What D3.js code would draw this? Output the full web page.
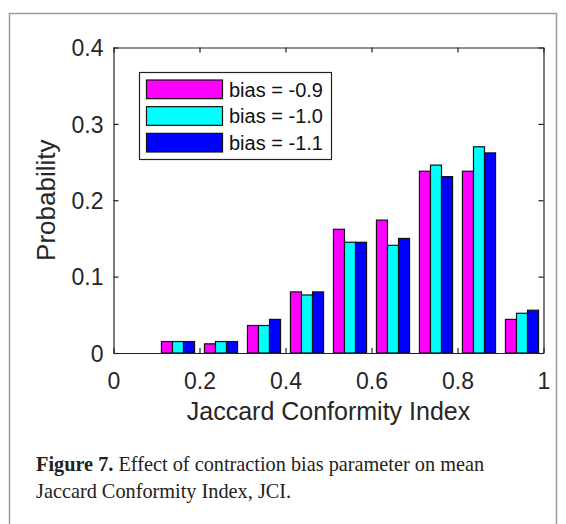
<!DOCTYPE html>
<html>
<head>
<meta charset="utf-8">
<script src="https://cdn.jsdelivr.net/npm/d3@7"></script>
<style>
  html, body { margin: 0; padding: 0; background: #fff; }
  svg { display: block; }
</style>
</head>
<body>
<svg id="fig" width="566" height="524"></svg>
<script>
// Bin centres of the JCI histogram
const binCentres = [0.15, 0.25, 0.35, 0.45, 0.55, 0.65, 0.75, 0.85, 0.95];
const seriesNames = ["bias = -0.9", "bias = -1.0", "bias = -1.1"];
const biasNeg09 = [0.015, 0.012, 0.036, 0.080, 0.162, 0.174, 0.238, 0.238, 0.044];
const biasNeg10 = [0.015, 0.015, 0.036, 0.076, 0.145, 0.141, 0.246, 0.270, 0.052];
const biasNeg11 = [0.015, 0.015, 0.044, 0.080, 0.145, 0.150, 0.231, 0.262, 0.056];
const seriesColours = ["#ff00ff", "#00ffff", "#0000ff"];
const xTicks = [0, 0.2, 0.4, 0.6, 0.8, 1];
const yTicks = [0, 0.1, 0.2, 0.3, 0.4];

const seriesValues = [biasNeg09, biasNeg10, biasNeg11];

const svg = d3.select("#fig");
const plot = { left: 113.5, right: 543.5, top: 47.5, bottom: 353 };

// figure frame
svg.append("rect")
  .attr("x", 9.5).attr("y", 13.5)
  .attr("width", 547).attr("height", 540)
  .attr("fill", "none").attr("stroke", "#9a9a9a").attr("stroke-width", 1.5);

const x = d3.scaleLinear().domain([0, 1]).range([plot.left, plot.right]);
const y = d3.scaleLinear().domain([0, 0.4]).range([plot.bottom, plot.top]);

// grouped bars: three bars side by side within each bin
const groupWidth = x(0.077) - x(0);
const xInner = d3.scaleBand().domain(seriesNames).range([-groupWidth / 2, groupWidth / 2]);

const rows = binCentres.map((c, i) => ({
  centre: c,
  vals: seriesNames.map((s, k) => ({ name: s, value: seriesValues[k][i], colour: seriesColours[k] }))
}));

const groups = svg.append("g").selectAll("g").data(rows).join("g")
  .attr("transform", d => `translate(${x(d.centre)},0)`);

groups.selectAll("rect").data(d => d.vals).join("rect")
  .attr("x", d => xInner(d.name))
  .attr("width", xInner.bandwidth())
  .attr("y", d => y(d.value))
  .attr("height", d => y(0) - y(d.value))
  .attr("fill", d => d.colour)
  .attr("stroke", "#111")
  .attr("stroke-width", 1.2);

// axes box with inward ticks on all four sides
const tickLen = 5;
const axisColour = "#222";
const fontSans = "'Liberation Sans', Arial, Helvetica, sans-serif";
const tickFmt = d => d === 0 ? "0" : (d === 1 ? "1" : d3.format(".1f")(d));

const bottomAxis = d3.axisBottom(x).tickValues(xTicks).tickSizeInner(-tickLen).tickSizeOuter(0).tickFormat(tickFmt);
const topAxis = d3.axisTop(x).tickValues(xTicks).tickSizeInner(-tickLen).tickSizeOuter(0).tickFormat("");
const leftAxis = d3.axisLeft(y).tickValues(yTicks).tickSizeInner(-tickLen).tickSizeOuter(0).tickFormat(tickFmt);
const rightAxis = d3.axisRight(y).tickValues(yTicks).tickSizeInner(-tickLen).tickSizeOuter(0).tickFormat("");

function styleAxis(g) {
  g.select(".domain").attr("stroke", axisColour).attr("stroke-width", 1.2);
  g.selectAll(".tick line").attr("stroke", axisColour).attr("stroke-width", 1.2);
  g.selectAll(".tick text").attr("fill", "#262626")
    .style("font-family", fontSans).style("font-size", "23px");
}

svg.append("g").attr("transform", `translate(0,${plot.bottom})`).call(bottomAxis).call(styleAxis)
  .selectAll(".tick text").attr("y", 36).attr("dy", 0);
svg.append("g").attr("transform", `translate(0,${plot.top})`).call(topAxis).call(styleAxis);
svg.append("g").attr("transform", `translate(${plot.left},0)`).call(leftAxis).call(styleAxis)
  .selectAll(".tick text").attr("x", -10).attr("dy", "0.36em");
svg.append("g").attr("transform", `translate(${plot.right},0)`).call(rightAxis).call(styleAxis);

// axis titles
svg.append("text")
  .attr("x", (plot.left + plot.right) / 2).attr("y", 420)
  .attr("text-anchor", "middle")
  .style("font-family", fontSans).style("font-size", "25px").attr("fill", "#262626")
  .text("Jaccard Conformity Index");

svg.append("text")
  .attr("transform", `translate(55,${(plot.top + plot.bottom) / 2}) rotate(-90)`)
  .attr("text-anchor", "middle")
  .style("font-family", fontSans).style("font-size", "26px").attr("fill", "#262626")
  .text("Probability");

// legend
const legend = svg.append("g");
legend.append("rect")
  .attr("x", 139.5).attr("y", 72.5).attr("width", 192).attr("height", 87)
  .attr("fill", "#fff").attr("stroke", "#222").attr("stroke-width", 1.2);

const legendRow = d3.scaleBand().domain(seriesNames).range([76, 156]).paddingInner(0.3).paddingOuter(0.15);
const items = legend.selectAll("g.item").data(seriesNames).join("g").attr("class", "item");
items.append("rect")
  .attr("x", 146.5).attr("width", 76)
  .attr("y", d => legendRow(d))
  .attr("height", legendRow.bandwidth())
  .attr("fill", (d, i) => seriesColours[i])
  .attr("stroke", "#111").attr("stroke-width", 1.2);
items.append("text")
  .attr("x", 229)
  .attr("y", d => legendRow(d) + legendRow.bandwidth() / 2)
  .attr("dy", "0.36em")
  .style("font-family", fontSans).style("font-size", "20px").attr("fill", "#111")
  .text(d => d);

// caption
const fontSerif = "'Liberation Serif', 'Times New Roman', serif";
const cap = svg.append("text")
  .style("font-family", fontSerif).style("font-size", "20.3px").attr("fill", "#222");
const l1 = cap.append("tspan").attr("x", 36).attr("y", 471);
l1.append("tspan").attr("font-weight", "bold").text("Figure 7.");
l1.append("tspan").text(" Effect of contraction bias parameter on mean");
cap.append("tspan").attr("x", 36).attr("y", 498).text("Jaccard Conformity Index, JCI.");
</script>
</body>
</html>
